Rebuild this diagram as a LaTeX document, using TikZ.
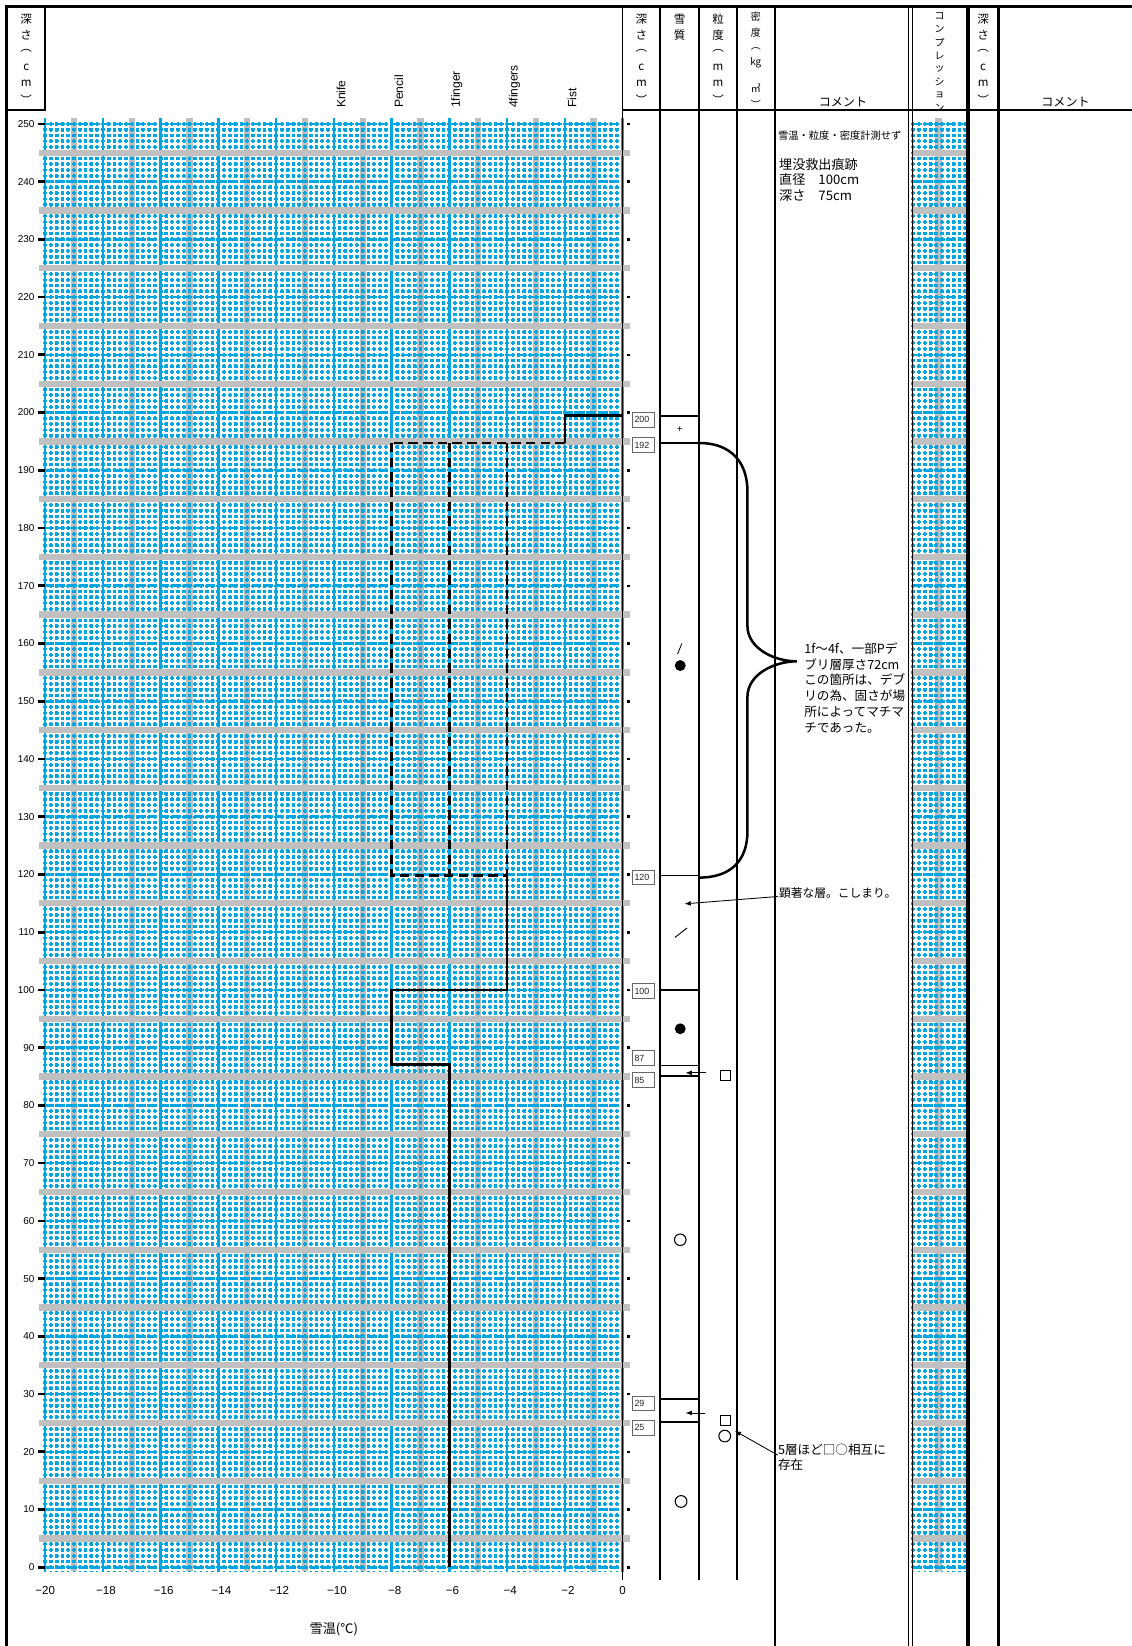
\documentclass[tikz,border=0pt]{standalone}
\usepackage{fontspec}
\setmainfont{Liberation Sans}
\newfontfamily\jp{Noto Sans CJK JP}
\usetikzlibrary{arrows.meta}
\definecolor{gblue}{RGB}{0,166,228}
\definecolor{ggray}{RGB}{192,192,192}
\begin{document}
\begin{tikzpicture}[x=1pt,y=-1pt,
  fineV/.style={gblue, line width=2.3pt, dash pattern=on 3.6pt off 1.9pt},
  fineH/.style={gblue, line width=2.3pt, dash pattern=on 3.6pt off 1.9pt},
  boldrow/.style={gblue, line width=2.5pt, dash pattern=on 8pt off 3pt},
  bluev/.style={gblue, line width=2.4pt},
  colline/.style={line width=1.8pt},
  thickline/.style={line width=3.4pt},
  thinline/.style={line width=1.2pt},
  prof/.style={line width=2.4pt},
  profdash/.style={line width=2.4pt, dash pattern=on 9pt off 5pt},
  dbox/.style={draw=black!60, line width=0.9pt, fill=white, text width=17pt, align=left, inner xsep=2pt, inner ysep=0pt, minimum height=14pt, font=\fontsize{8.5}{8.5}\selectfont, text=black!85, anchor=west},
  arr/.style={line width=0.8pt, -{Latex[length=6pt,width=4.5pt]}},
  hdr/.style={font=\jp\fontsize{11}{11}\selectfont, inner sep=0pt},
  hdrs/.style={font=\jp\fontsize{9.5}{9.5}\selectfont, inner sep=0pt},
  rot/.style={rotate=90, anchor=west, font=\fontsize{11.5}{11.5}\selectfont, inner sep=0pt},
  ylab/.style={anchor=east, font=\fontsize{9.5}{9.5}\selectfont, inner sep=0pt},
  xlab/.style={font=\fontsize{11}{11}\selectfont, inner sep=0pt},
  cmt/.style={font=\jp\fontsize{11.5}{14.5}\selectfont, align=left, inner sep=0pt},
  sym/.style={line width=1pt}
]
\useasboundingbox (0,0) rectangle (1078,1568);
\fill[white] (0,0) rectangle (1078,1568);

% ---------- main plot pattern ----------
\foreach \i in {0,...,9} \fill[ggray] ({70.5+55*\i-3},112) rectangle ++(6,1385);
\foreach \i in {0,...,100} \draw[fineV] ({43+5.5*\i},116.2) -- ({43+5.5*\i},1497);
\foreach \d in {0,...,250} \draw[fineH] (41.2,{1493-5.5*\d}) -- (593,{1493-5.5*\d});
\foreach \d in {0,10,...,250} \draw[boldrow] (43,{1493-5.5*\d}) -- (593,{1493-5.5*\d});
\foreach \i in {0,...,10} \draw[bluev] ({43+55*\i},112) -- ({43+55*\i},1497);
\foreach \d in {5,15,...,245} \fill[ggray] (37,{1493-5.5*\d-3}) rectangle (600,{1493-5.5*\d+3});

% ---------- compression column pattern ----------
\fill[ggray] (891,112) rectangle (897,1497);
\foreach \i in {0,...,9} \draw[fineV] ({870+5.5*\i},116.2) -- ({870+5.5*\i},1497);
\foreach \d in {0,...,250} \draw[fineH] (868.2,{1493-5.5*\d}) -- (919,{1493-5.5*\d});
\foreach \d in {0,10,...,250} \draw[boldrow] (870,{1493-5.5*\d}) -- (919,{1493-5.5*\d});
\foreach \d in {5,15,...,245} \fill[ggray] (869,{1493-5.5*\d-3}) rectangle (921,{1493-5.5*\d+3});

% ---------- axes ticks and labels ----------
\foreach \d in {0,10,...,250} {
  \draw[line width=2.6pt] (36,{1493-5.5*\d}) -- (43,{1493-5.5*\d});
  \node[ylab] (yl\d) at (33,{1493-5.5*\d}) {\d};
  \fill (597.5,{1493-5.5*\d-1.2}) rectangle ++(2.5,2.5);
}
\node[xlab] (xl20) at (43,1515) {−20};
\foreach \t in {18,16,...,2} \node[xlab] (xl\t) at ({593-27.5*\t+3},1515) {−\t};
\node[xlab] (xl0) at (593,1515) {0};
\node[font=\jp\fontsize{12.5}{12.5}\selectfont] (xt) at (318,1552) {雪温(℃)};

\node[rot] (kn) at (325,103) {Knife};
\node[rot] (pe) at (380,103) {Pencil};
\node[rot] (f1) at (435,103) {1finger};
\node[rot] (f4) at (490,103) {4fingers};
\node[rot] (fi) at (545,103) {Fist};

% ---------- frame and columns ----------
\draw[line width=3pt] (6,1568) -- (6,6) -- (1078,6);
\draw[colline] (43,6) -- (43,105) -- (6,105);
\draw[colline] (593,105) -- (1078,105);
\foreach \x in {593,629,666,702} \draw[colline] (\x,6) -- (\x,1505);
\draw[colline] (738,6) -- (738,1568);
\draw[thinline] (865.5,6) -- (865.5,1568);
\draw[thinline] (869,6) -- (869,1568);
\draw[thickline] (922,6) -- (922,1568);
\draw[thickline] (951,6) -- (951,1568);

% ---------- headers ----------
\foreach \c [count=\i from 0] in {深,さ,︵,c,m,︶} {
  \node[hdr] (hl\i) at (25,{18+15.3*\i}) {\c};
  \node[hdr] (hd\i) at (611,{18+15.3*\i}) {\c};
  \node[hdr] (hr\i) at (936.5,{18+15.3*\i}) {\c};
}
\node[hdr] (hq0) at (647.5,18) {雪};
\node[hdr] (hq1) at (647.5,33.3) {質};
\foreach \c [count=\i from 0] in {粒,度,︵,m,m,︶} \node[hdr] (hg\i) at (684,{18+15.3*\i}) {\c};
\foreach \c/\yy [count=\i] in {密/16,度/31,︵/46.5,kg/60,/ /72,㎥/84,︶/99} \node[hdrs] (hm\i) at (720,\yy) {\c};
\foreach \c [count=\i from 0] in {コ,ン,プ,レ,ッ,シ,ョ,ン} \node[hdrs] (hc\i) at (895,{15+12.6*\i}) {\c};
\node[font=\jp\fontsize{11.5}{11.5}\selectfont] (hcm1) at (803,97) {コメント};
\node[font=\jp\fontsize{11.5}{11.5}\selectfont] (hcm2) at (1015,97) {コメント};

% ---------- hardness profile ----------
\draw[prof] (593,396) -- (538,396) -- (538,422);
\draw[profdash] (538,422) -- (373,422);
\draw[profdash] (373,422) -- (373,834) -- (483,834);
\draw[profdash] (428,422) -- (428,834);
\draw[profdash] (483,422) -- (483,834);
\draw[prof] (483,834) -- (483,943) -- (373,943) -- (373,1014) -- (428,1014) -- (428,1493);

% ---------- layer lines ----------
\foreach \y in {396,422,834,943,1015,1025,1333,1355} \draw[colline] (629,\y) -- (666,\y);

% ---------- depth boxes ----------
\node[dbox] (b200) at (602,400) {200};
\node[dbox] (b192) at (602,424) {192};
\node[dbox] (b120) at (602,836) {120};
\node[dbox] (b100) at (602,944) {100};
\node[dbox] (b87) at (602,1008) {87};
\node[dbox] (b85) at (602,1029) {85};
\node[dbox] (b29) at (602,1337) {29};
\node[dbox] (b25) at (602,1360) {25};

% ---------- snow type / grain symbols ----------
\node[font=\fontsize{9.5}{9.5}\selectfont, inner sep=0pt] (plus) at (647.5,409.5) {+};
\draw[line width=0.8pt] (645.5,623) -- (649.5,613);
\fill (648,634) circle (5.2);
\draw[line width=0.9pt] (643,893) -- (654.5,884);
\fill (648,980) circle (5.2);
\draw[sym] (648,1181) circle (5.5);
\draw[sym] (648.8,1430.3) circle (5.6);
\draw[sym] (686,1020) rectangle (695.5,1029.5);
\draw[sym] (686,1348.5) rectangle (695.5,1358);
\draw[sym] (690.4,1368) circle (5.6);

% ---------- brace ----------
\draw[line width=2.4pt] (666,422) .. controls (696,422) and (712,440) .. (712,468)
  -- (712,596) .. controls (712,618) and (738,630) .. (759,630)
  .. controls (738,630) and (712,642) .. (712,664)
  -- (712,792) .. controls (712,820) and (696,836) .. (666,836);

% ---------- comments ----------
\node[font=\jp\fontsize{9.8}{9.8}\selectfont, anchor=west, inner sep=0pt] (c0) at (741,129) {雪温・粒度・密度計測せず};
\node[cmt, anchor=north west, font=\jp\fontsize{12.5}{14.5}\selectfont] (c1) at (742,151) {埋没救出痕跡\\直径　100cm\\深さ　75cm};
\node[cmt, anchor=north west, font=\jp\fontsize{12}{15}\selectfont] (c2) at (766,612) {1f～4f、一部Pデ\\ブリ層厚さ72cm\\この箇所は、デブ\\リの為、固さが場\\所によってマチマ\\チであった。};
\node[cmt, anchor=west, font=\jp\fontsize{11.2}{11.2}\selectfont] (c3) at (742,851) {顕著な層。こしまり。};
\node[cmt, anchor=north west, font=\jp\fontsize{12}{15}\selectfont] (c4) at (741,1375) {5層ほど□○相互に\\存在};

% ---------- arrows ----------
\coordinate (a1) at (652,861);
\draw[arr] (c3.west) ++(-1,3) -- (a1);
\coordinate (t2) at (673,1022);
\coordinate (a2) at (653,1022);
\draw[arr] (t2) -- (a2);
\coordinate (t3) at (672,1346);
\coordinate (a3) at (653,1346);
\draw[arr] (t3) -- (a3);
\coordinate (a4) at (700,1363);
\draw[arr] (c4.west) ++(0,-2) -- (a4);
\end{tikzpicture}
\end{document}
